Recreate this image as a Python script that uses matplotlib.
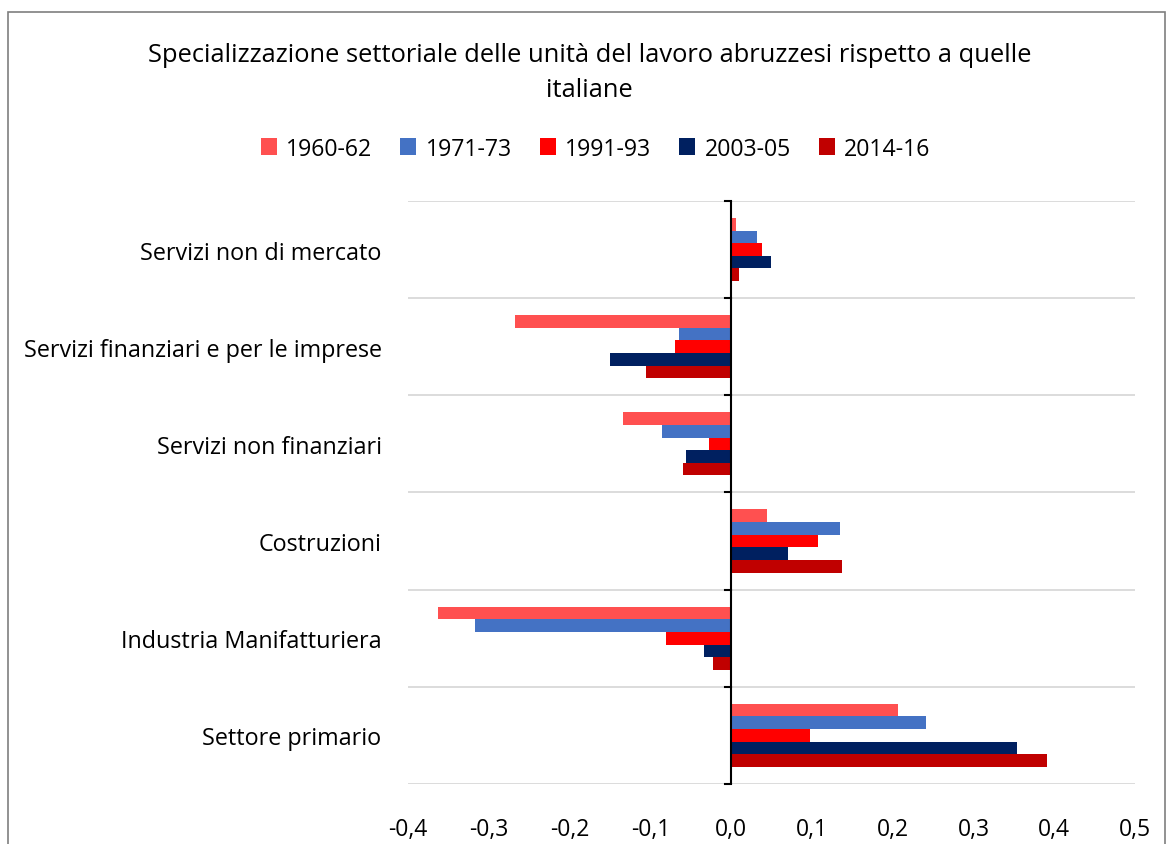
import matplotlib
matplotlib.use("Agg")
import matplotlib.pyplot as plt
import numpy as np
from matplotlib.patches import Rectangle
from matplotlib.ticker import FuncFormatter

# categories from bottom to top
settori = ["Settore primario", "Industria Manifatturiera", "Costruzioni",
           "Servizi non finanziari", "Servizi finanziari e per le imprese",
           "Servizi non di mercato"]

periodi = ["1960-62", "1971-73", "1991-93", "2003-05", "2014-16"]
colori = ["#FF5050", "#4472C4", "#FF0000", "#002060", "#C00000"]

v_1960 = [0.206, -0.363, 0.044, -0.134, -0.268, 0.006]
v_1971 = [0.241, -0.317, 0.135, -0.086, -0.065, 0.032]
v_1991 = [0.098, -0.081, 0.107, -0.027, -0.070, 0.038]
v_2003 = [0.354, -0.034, 0.070, -0.056, -0.150, 0.050]
v_2014 = [0.391, -0.023, 0.137, -0.059, -0.105, 0.010]
serie = [v_1960, v_1971, v_1991, v_2003, v_2014]

plt.rcParams['font.family'] = ['Open Sans', 'DejaVu Sans']

fig = plt.figure(figsize=(11.7, 8.45), dpi=100)
ax = fig.add_axes([0.3487, 0.071, 0.6214, 0.690])

y = np.arange(len(settori))
h = 0.13
for i, (nome, vals, c) in enumerate(zip(periodi, serie, colori)):
    # first series on top of each group
    ax.barh(y + (2 - i) * h, vals, height=h, color=c, label=nome, zorder=3)

ax.set_xlim(-0.4, 0.5)
ax.set_ylim(-0.5, len(settori) - 0.5)
ax.set_xticks(np.arange(-0.4, 0.51, 0.1))
ax.xaxis.set_major_formatter(FuncFormatter(lambda v, p: f"{v:.1f}".replace(".", ",").replace("-0,0", "0,0")))
ax.set_yticks(y)
ax.set_yticklabels(settori)
ax.tick_params(axis='y', length=0, pad=19, labelsize=16.8)
ax.tick_params(axis='x', length=0, pad=24, labelsize=16.5)

for b in np.arange(-0.5, len(settori), 1.0):
    ax.axhline(b, color="#d9d9d9", lw=1.3, zorder=1)
ax.axvline(0, color="black", lw=1.5, zorder=4)
# small tick marks on the zero axis at category boundaries
for b in np.arange(-0.5, len(settori), 1.0):
    ax.plot([-0.008, 0], [b, b], color="black", lw=1.5, zorder=4, clip_on=False)

for s in ax.spines.values():
    s.set_visible(False)

fig.text(0.504, 0.934, "Specializzazione settoriale delle unità del lavoro abruzzesi rispetto a quelle",
         ha="center", va="center", fontsize=18.4)
fig.text(0.504, 0.893, "italiane", ha="center", va="center", fontsize=18.4)

fig.legend(loc="center", bbox_to_anchor=(0.509, 0.823), ncol=5, frameon=False,
           fontsize=16.7, handlelength=0.7, handleheight=0.7, handletextpad=0.4,
           columnspacing=1.2)

fig.patches.append(Rectangle((8 / 1170, -0.05), (1165 - 8) / 1170, 1.05 - 13 / 845,
                             transform=fig.transFigure, fill=False,
                             edgecolor="#7f7f7f", lw=1.2))

fig.savefig("out.png", dpi=100)
